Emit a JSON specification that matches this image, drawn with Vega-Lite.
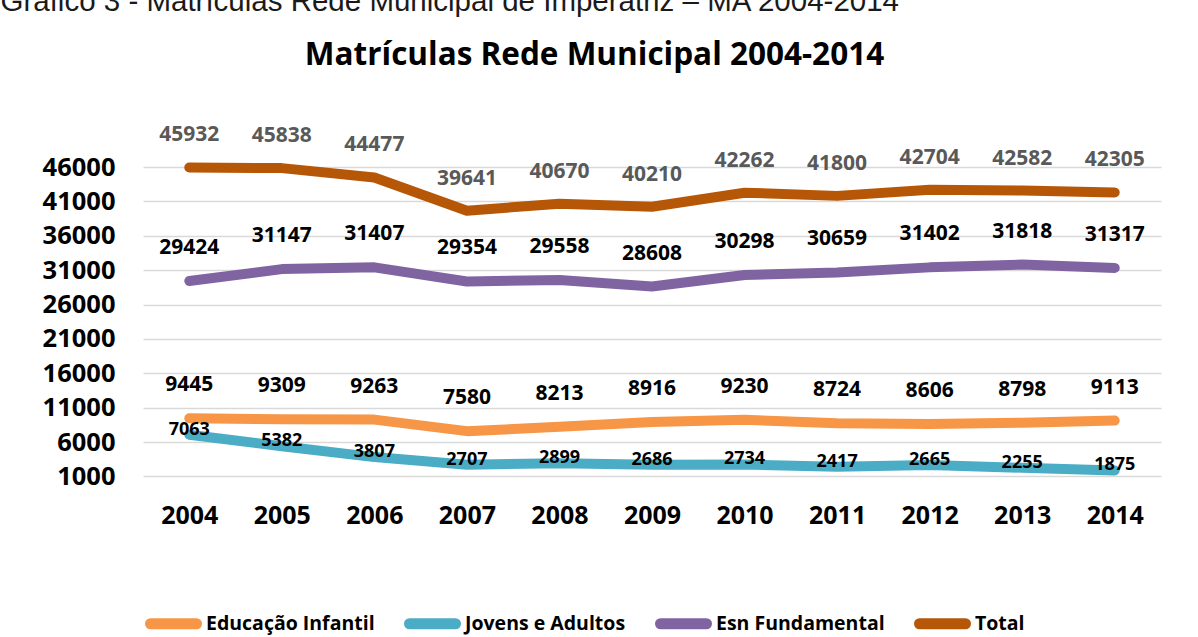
{
  "$schema": "https://vega.github.io/schema/vega-lite/v6.json",
  "width": 1018,
  "height": 309.4,
  "autosize": {"type": "none"},
  "padding": {"left": 143, "top": 167, "right": 37, "bottom": 160.6},
  "background": "white",
  "config": {
    "view": {"stroke": null},
    "font": "Open Sans"
  },
  "data": {
    "values": [
      {"ano": "2004", "serie": "Educação Infantil", "valor": 9445},
      {"ano": "2005", "serie": "Educação Infantil", "valor": 9309},
      {"ano": "2006", "serie": "Educação Infantil", "valor": 9263},
      {"ano": "2007", "serie": "Educação Infantil", "valor": 7580},
      {"ano": "2008", "serie": "Educação Infantil", "valor": 8213},
      {"ano": "2009", "serie": "Educação Infantil", "valor": 8916},
      {"ano": "2010", "serie": "Educação Infantil", "valor": 9230},
      {"ano": "2011", "serie": "Educação Infantil", "valor": 8724},
      {"ano": "2012", "serie": "Educação Infantil", "valor": 8606},
      {"ano": "2013", "serie": "Educação Infantil", "valor": 8798},
      {"ano": "2014", "serie": "Educação Infantil", "valor": 9113},
      {"ano": "2004", "serie": "Jovens e Adultos", "valor": 7063},
      {"ano": "2005", "serie": "Jovens e Adultos", "valor": 5382},
      {"ano": "2006", "serie": "Jovens e Adultos", "valor": 3807},
      {"ano": "2007", "serie": "Jovens e Adultos", "valor": 2707},
      {"ano": "2008", "serie": "Jovens e Adultos", "valor": 2899},
      {"ano": "2009", "serie": "Jovens e Adultos", "valor": 2686},
      {"ano": "2010", "serie": "Jovens e Adultos", "valor": 2734},
      {"ano": "2011", "serie": "Jovens e Adultos", "valor": 2417},
      {"ano": "2012", "serie": "Jovens e Adultos", "valor": 2665},
      {"ano": "2013", "serie": "Jovens e Adultos", "valor": 2255},
      {"ano": "2014", "serie": "Jovens e Adultos", "valor": 1875},
      {"ano": "2004", "serie": "Esn Fundamental", "valor": 29424},
      {"ano": "2005", "serie": "Esn Fundamental", "valor": 31147},
      {"ano": "2006", "serie": "Esn Fundamental", "valor": 31407},
      {"ano": "2007", "serie": "Esn Fundamental", "valor": 29354},
      {"ano": "2008", "serie": "Esn Fundamental", "valor": 29558},
      {"ano": "2009", "serie": "Esn Fundamental", "valor": 28608},
      {"ano": "2010", "serie": "Esn Fundamental", "valor": 30298},
      {"ano": "2011", "serie": "Esn Fundamental", "valor": 30659},
      {"ano": "2012", "serie": "Esn Fundamental", "valor": 31402},
      {"ano": "2013", "serie": "Esn Fundamental", "valor": 31818},
      {"ano": "2014", "serie": "Esn Fundamental", "valor": 31317},
      {"ano": "2004", "serie": "Total", "valor": 45932},
      {"ano": "2005", "serie": "Total", "valor": 45838},
      {"ano": "2006", "serie": "Total", "valor": 44477},
      {"ano": "2007", "serie": "Total", "valor": 39641},
      {"ano": "2008", "serie": "Total", "valor": 40670},
      {"ano": "2009", "serie": "Total", "valor": 40210},
      {"ano": "2010", "serie": "Total", "valor": 42262},
      {"ano": "2011", "serie": "Total", "valor": 41800},
      {"ano": "2012", "serie": "Total", "valor": 42704},
      {"ano": "2013", "serie": "Total", "valor": 42582},
      {"ano": "2014", "serie": "Total", "valor": 42305}
    ]
  },
  "encoding": {
    "x": {
      "field": "ano",
      "type": "ordinal",
      "scale": {"type": "point", "padding": 0.5},
      "axis": {
        "title": "Matrículas Rede Municipal 2004-2014",
        "titleFont": "Open Sans",
        "titleFontSize": 31.5,
        "titleFontWeight": "bold",
        "titleColor": "#000000",
        "titleX": 451,
        "titleY": -421,
        "titleAlign": "center",
        "titleBaseline": "middle",
        "labelAngle": 0,
        "labelFont": "Open Sans",
        "labelFontSize": 25,
        "labelFontWeight": "bold",
        "labelColor": "#000000",
        "labelPadding": 27,
        "domain": false,
        "ticks": false,
        "grid": false
      }
    },
    "y": {
      "field": "valor",
      "type": "quantitative",
      "scale": {"domain": [1000, 46000], "nice": false, "zero": false},
      "axis": {
        "values": [1000, 6000, 11000, 16000, 21000, 26000, 31000, 36000, 41000, 46000],
        "format": "d",
        "title": "Gráfico 3 - Matrículas Rede Municipal de Imperatriz – MA 2004-2014",
        "titleFont": "Liberation Sans",
        "titleFontSize": 29.5,
        "titleFontWeight": "normal",
        "titleColor": "#1a1a1a",
        "titleAngle": 0,
        "titleAlign": "left",
        "titleBaseline": "alphabetic",
        "titleX": -143,
        "titleY": -157,
        "labelFont": "Open Sans",
        "labelFontSize": 25.5,
        "labelFontWeight": "bold",
        "labelColor": "#000000",
        "labelPadding": 28,
        "domain": false,
        "ticks": false,
        "grid": true,
        "gridColor": "#d9d9d9",
        "gridWidth": 1.5
      }
    }
  },
  "layer": [
    {
      "mark": {"type": "line", "strokeWidth": 10, "strokeCap": "round", "strokeJoin": "round"},
      "encoding": {
        "color": {
          "field": "serie",
          "type": "nominal",
          "sort": ["Educação Infantil", "Jovens e Adultos", "Esn Fundamental", "Total"],
          "scale": {
            "domain": ["Educação Infantil", "Jovens e Adultos", "Esn Fundamental", "Total"],
            "range": ["#F79646", "#4BACC6", "#8064A2", "#B65708"]
          },
          "legend": {
            "title": null,
            "orient": "none",
            "direction": "horizontal",
            "legendX": 2,
            "legendY": 428,
            "symbolType": "stroke",
            "symbolSize": 2116,
            "symbolStrokeWidth": 11,
            "labelFont": "Open Sans",
            "labelFontSize": 19.5,
            "labelFontWeight": "bold",
            "labelColor": "#000000",
            "labelLimit": 400,
            "labelOffset": 4,
            "columnPadding": 12,
            "encode": {"symbols": {"update": {"strokeCap": {"value": "round"}}}}
          }
        }
      }
    },
    {
      "transform": [{"filter": "datum.serie === 'Total'"}],
      "mark": {"type": "text", "dy": -32, "fontSize": 21, "fontWeight": "bold", "color": "#595959", "baseline": "middle"},
      "encoding": {"text": {"field": "valor", "type": "quantitative", "format": "d"}}
    },
    {
      "transform": [{"filter": "datum.serie === 'Esn Fundamental' || datum.serie === 'Educação Infantil'"}],
      "mark": {"type": "text", "dy": -33, "fontSize": 21, "fontWeight": "bold", "color": "#000000", "baseline": "middle"},
      "encoding": {"text": {"field": "valor", "type": "quantitative", "format": "d"}}
    },
    {
      "transform": [{"filter": "datum.serie === 'Jovens e Adultos'"}],
      "mark": {"type": "text", "dy": -5, "fontSize": 18, "fontWeight": "bold", "color": "#000000", "baseline": "middle"},
      "encoding": {"text": {"field": "valor", "type": "quantitative", "format": "d"}}
    }
  ]
}
